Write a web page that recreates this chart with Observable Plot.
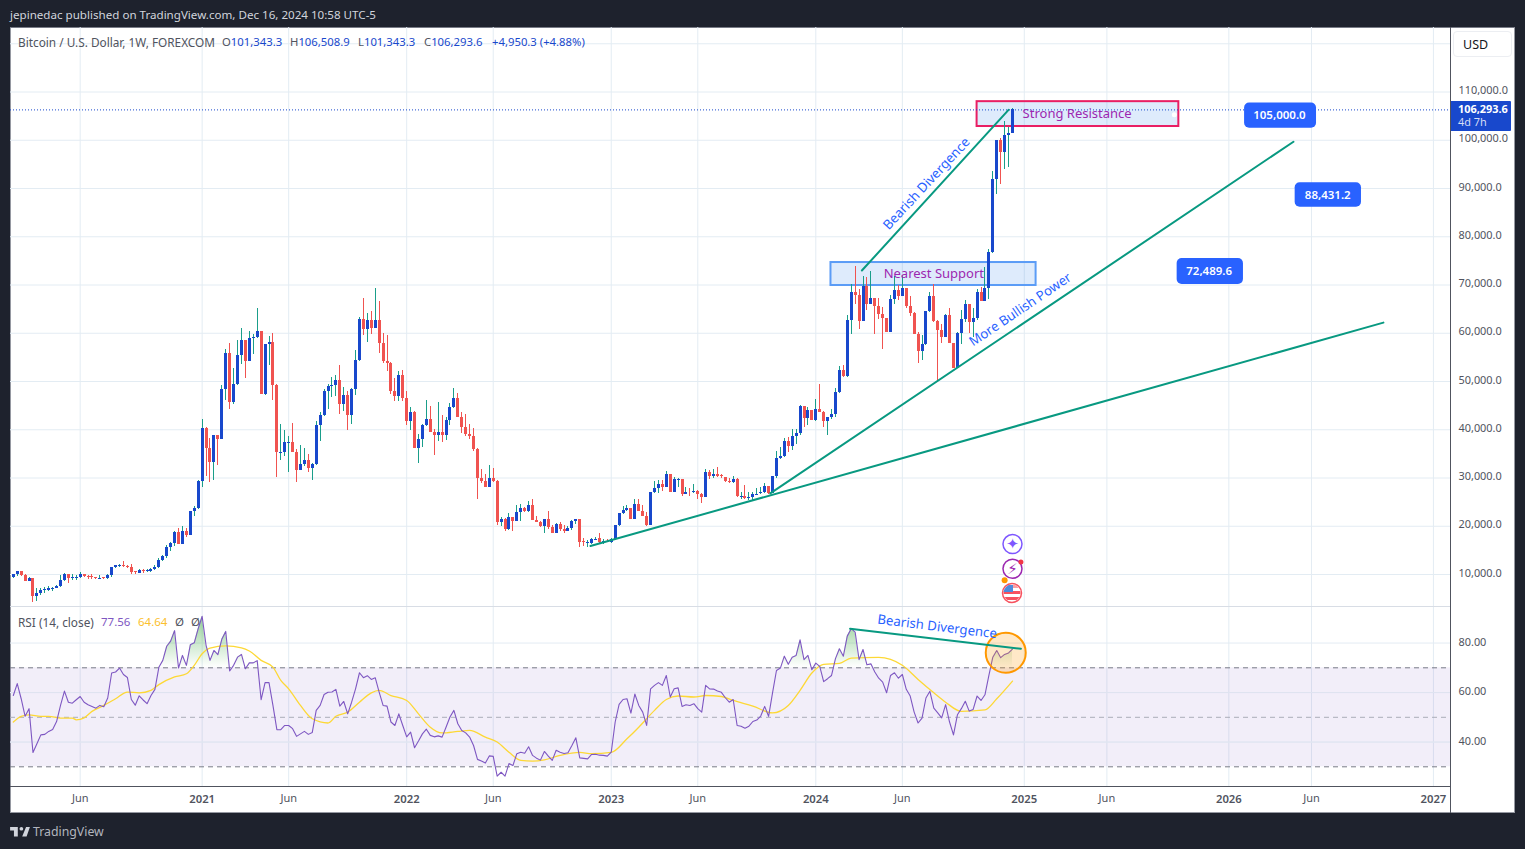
<!DOCTYPE html>
<html><head><meta charset="utf-8">
<script src="https://cdn.jsdelivr.net/npm/d3@7"></script>
<script src="https://cdn.jsdelivr.net/npm/@observablehq/plot@0.6"></script>
<style>
html,body{margin:0;padding:0;background:#1e222d;width:1525px;height:849px;overflow:hidden;font-family:"Noto Sans",sans-serif}
.abs{position:absolute;white-space:nowrap}
#frame{left:10px;top:27px;width:1505px;height:786px;background:#fff;box-sizing:border-box;border:1px solid #9598a1;border-top-color:#787b86}
#pane1,#pane2{position:absolute;left:10px}
#pane1{top:27px}#pane2{top:606px}
#sep{left:1450px;top:27px;width:1px;height:786px;background:#50535e}
#xline{left:10px;top:786px;width:1440px;height:1px;background:#50535e}
#pline{left:10px;top:606px;width:1440px;height:1px;background:#d8dde5}
.g{color:#50535e}.b{color:#1848cc}
</style></head><body>
<div class="abs" id="frame"></div>
<div id="pane1"></div><div id="pane2"></div>
<div class="abs" id="pline"></div>
<div class="abs" id="sep"></div><div class="abs" id="xline"></div>
<div class="abs" style="left:10px;top:7px;color:#d1d4dc;font-size:11.6px">jepinedac published on TradingView.com, Dec 16, 2024 10:58 UTC-5</div>
<div class="abs g" style="left:18px;top:34px;font-size:11.8px">Bitcoin / U.S. Dollar, 1W, FOREXCOM</div>
<div class="abs g" style="left:222px;top:34px;font-size:11.3px">O<span class="b">101,343.3</span></div>
<div class="abs g" style="left:290px;top:34px;font-size:11.3px">H<span class="b">106,508.9</span></div>
<div class="abs g" style="left:358px;top:34px;font-size:11.3px">L<span class="b">101,343.3</span></div>
<div class="abs g" style="left:424px;top:34px;font-size:11.3px">C<span class="b">106,293.6</span></div>
<div class="abs b" style="left:492px;top:34px;font-size:11.3px">+4,950.3 (+4.88%)</div>
<div class="abs g" style="left:18px;top:614px;font-size:11.8px">RSI (14, close)</div>
<div class="abs" style="left:101px;top:614px;font-size:11.5px;color:#7e57c2">77.56</div>
<div class="abs" style="left:138px;top:614px;font-size:11.5px;color:#fbc02d">64.64</div>
<div class="abs g" style="left:175px;top:614px;font-size:11.5px">&#216;</div>
<div class="abs g" style="left:191px;top:614px;font-size:11.5px">&#216;</div>
<div class="abs" style="left:1453px;top:31px;width:59px;height:26px;box-sizing:border-box;border:1px solid #eceef2;border-radius:4px;background:#fff;color:#131722;font-size:12.5px;line-height:25px;padding-left:9px">USD</div>
<div class="abs" style="left:1451px;top:101px;width:60px;height:30px;background:#1848cc;border-radius:0 1px 1px 0;color:#fff;font-size:10.9px;line-height:13px;padding:1px 0 0 7px;box-sizing:border-box"><b>106,293.6</b><br><span style="color:#d6def6">4d 7h</span></div>
<svg class="abs" style="left:1001px;top:582px" width="22" height="22" viewBox="0 0 22 22"><defs><clipPath id="fc"><circle cx="11" cy="11" r="8.5"/></clipPath></defs><circle cx="11" cy="11" r="9.5" fill="#fff" stroke="#f7525f" stroke-width="1.5"/><g clip-path="url(#fc)"><rect x="0" y="3" width="22" height="3" fill="#f7a0a6"/><rect x="0" y="9" width="22" height="3" fill="#f7525f"/><rect x="0" y="15" width="22" height="3" fill="#f7525f"/><rect x="2" y="3" width="10" height="7" fill="#4d8bdc"/></g></svg>
<svg class="abs" style="left:10px;top:826px" width="20" height="11" viewBox="0 0 36 20"><path fill="#d1d4dc" d="M14 2H0v6h7v11h7V2zm16 17h-8L29 2h7l-6 17z"/><circle cx="20.5" cy="5" r="3.4" fill="#d1d4dc"/></svg>
<div class="abs" style="left:33px;top:823px;color:#b2b5be;font-size:12.3px">TradingView</div>
<script>
// ---- weekly bars (thousands of USD), first bar = week of 3 Feb 2020 ----
const firstBar = "2020-02-03";
const firstOpen = 9.3;
const closes = [
9.9,10.6,9.7,8.6,9.2,5.4,6.1,6.7,6.7,7.0, 7.1,7.6,8.8,10.1,9.2,9.3,9.4,9.9,9.5,9.4,
9.3,9.1,9.2,9.1,9.7,11.5,11.8,11.9,11.6,11.5, 10.5,10.3,10.9,10.7,10.7,11.1,11.5,13.0,13.8,15.7,
16.5,18.8,16.3,18.9,18.0,23.1,23.6,29.2,40.2,36.2, 33.3,38.9,37.9,48.3,55.9,45.6,49.3,55.3,58.6,54.1,
58.9,59.1,60.3,47.4,57.6,58.0,49.1,35.2,35.2,37.3, 37.3,35.2,31.5,32.9,33.7,31.9,32.7,40.8,42.9,47.9,
48.9,49.1,50.3,45.2,47.2,42.9,48.3,54.3,62.8,60.7, 62.6,60.9,62.6,57.8,54.1,53.7,47.9,46.8,51.2,46.4,
41.8,43.5,36.2,37.9,40.8,42.2,39.5,38.9,39.5,38.9, 42.0,44.7,46.4,42.5,40.4,39.1,38.5,36.0,29.8,29.2,
28.1,29.8,29.2,20.7,21.5,19.4,21.9,20.9,22.8,23.6, 23.0,24.4,21.1,20.7,19.9,21.5,19.7,18.4,20.3,19.4,
19.0,19.6,20.9,21.5,16.7,16.5,16.5,17.2,17.4,16.7, 16.7,16.6,17.3,20.1,22.6,23.2,23.6,21.5,24.6,23.0,
22.1,20.1,26.9,27.8,28.6,28.0,30.7,27.1,29.6,29.6, 26.5,27.1,26.9,27.3,26.5,25.9,31.1,30.4,30.7,30.4,
30.2,29.3,29.0,29.6,26.1,26.1,25.7,26.0,26.5,26.7, 27.1,28.2,26.7,30.4,34.0,34.4,37.5,36.5,38.5,39.2,
44.8,42.3,43.9,41.9,44.2,43.5,41.7,42.5,43.1,47.7, 52.2,51.0,62.7,68.5,67.9,62.5,69.7,66.0,67.2,65.6,
63.9,63.0,60.2,67.0,68.9,67.6,69.3,65.6,64.1,59.8, 56.2,57.7,64.5,67.6,62.5,60.6,59.1,63.7,57.9,52.7,
60.0,62.9,66.0,62.2,63.1,68.5,66.6,69.3,76.8,91.9, 100.0,97.5,100.9,101.34,106.29];
const highs = [
10.1,10.7,10.5,10.0,9.3,9.2,7.0,7.2,7.4,7.6, 7.4,7.8,9.7,10.3,10.1,10.1,9.8,10.5,10.1,9.8,
9.9,9.4,9.7,9.4,9.9,11.5,11.9,12.1,12.6,11.9, 12.1,10.6,11.1,11.1,11.1,11.3,11.9,13.4,14.0,16.1,
16.7,19.0,19.6,20.0,19.6,23.1,24.0,29.4,42.2,40.4, 38.1,38.9,38.9,49.1,56.6,57.8,52.8,58.4,60.9,58.6,
60.3,59.7,65.1,60.3,57.6,59.3,59.9,49.3,41.0,39.8, 38.5,41.4,36.0,36.8,36.2,34.8,33.1,41.8,43.5,48.3,
49.3,50.8,51.2,53.3,48.7,47.9,48.5,56.4,63.2,67.2, 64.0,64.5,69.2,66.5,59.9,59.5,53.9,50.6,52.0,52.2,
47.9,44.7,43.7,39.1,41.0,46.0,44.9,40.0,45.6,42.9, 42.5,45.4,48.5,47.6,43.5,43.1,41.0,40.2,36.2,31.7,
30.8,32.5,31.9,29.4,21.9,21.7,22.6,21.9,24.4,24.6, 23.8,25.1,25.5,22.1,20.9,21.5,23.0,20.1,20.5,20.7,
20.1,19.9,21.1,21.5,21.5,17.4,17.0,17.4,17.6,18.6, 17.2,17.2,17.4,20.1,22.6,24.0,24.2,23.6,25.5,25.5,
24.2,22.8,27.1,29.2,29.4,29.4,31.3,30.7,30.2,29.8, 29.6,28.0,27.8,28.6,27.5,26.7,31.7,31.5,31.7,32.1,
30.7,30.2,29.8,30.4,29.8,26.9,28.4,26.9,27.1,27.8, 28.0,28.8,28.2,30.4,35.4,36.3,38.1,38.3,40.0,40.0,
45.0,44.8,44.6,43.9,46.2,49.3,43.7,42.6,44.2,48.5, 53.1,53.3,63.7,70.1,73.9,69.1,71.8,71.6,72.8,67.2,
67.2,65.4,63.0,67.9,71.8,69.9,72.0,69.3,67.6,64.3, 60.2,59.5,64.5,68.5,70.1,62.7,61.8,63.9,65.2,57.9,
60.2,64.7,66.8,66.0,65.2,69.1,69.5,73.7,77.4,93.6, 100.0,100.3,103.8,102.7,106.51];
const lows = [
9.2,9.6,9.5,8.6,8.6,4.1,4.5,5.7,6.0,6.5, 6.5,7.0,7.4,8.5,8.2,8.8,8.8,9.2,9.3,9.0,
9.0,9.0,9.0,9.0,9.0,9.4,11.3,11.4,11.5,11.3, 10.1,9.9,10.3,10.3,10.5,10.5,10.9,11.3,12.8,13.4,
14.8,15.9,16.3,16.9,17.7,18.0,22.1,23.4,28.1,30.4, 29.0,29.4,32.5,37.9,46.0,44.3,45.2,49.1,53.5,50.6,
54.1,55.7,58.9,47.4,47.2,53.3,46.0,30.2,33.7,34.4, 31.2,35.2,29.0,32.1,32.3,31.2,29.4,32.5,37.5,42.7,
44.1,46.6,46.8,43.1,43.7,39.8,41.0,47.2,54.1,59.5, 58.0,59.7,60.9,55.9,53.7,52.0,47.4,45.8,45.8,45.8,
40.8,39.8,36.2,33.1,36.4,40.6,39.5,34.6,37.5,37.3, 37.7,40.8,44.5,42.5,39.3,38.7,37.9,35.4,25.6,28.8,
28.1,28.1,29.0,20.2,19.9,19.0,19.2,19.0,20.9,20.9, 22.8,22.8,21.1,20.7,19.7,18.6,19.4,18.4,18.6,19.0,
18.4,19.0,19.2,20.3,15.7,15.9,15.7,16.3,17.0,16.5, 16.3,16.6,16.5,17.0,19.9,22.4,23.0,21.5,21.5,23.0,
22.1,19.9,20.1,26.7,26.7,27.3,28.0,27.1,27.1,28.0, 26.1,26.5,26.1,26.7,25.5,24.8,25.9,29.6,30.0,30.2,
29.8,29.0,28.8,28.8,25.9,25.5,25.5,25.3,25.1,26.3, 26.5,26.7,26.5,26.7,30.0,33.8,34.2,35.2,35.8,36.9,
38.8,40.4,40.8,41.9,41.7,43.5,40.4,38.8,42.1,42.5, 47.5,50.8,50.9,59.8,66.0,60.8,62.5,64.7,66.0,59.8,
62.9,56.6,60.2,60.2,66.0,66.8,67.6,65.2,63.5,59.8, 53.7,54.4,57.5,64.3,62.2,49.8,57.9,59.1,57.9,52.7,
52.7,57.7,62.2,60.0,59.1,62.7,66.6,66.6,67.0,76.6, 88.8,90.9,94.0,94.4,101.34];
const rsi = [
58.8,63.6,57.5,50.4,53.5,35.8,39.3,42.9,43.1,44.3, 45.1,48.3,54.8,60.6,56.1,55.7,57.1,58.4,56.1,55.1,
54.4,53.7,54.8,54.3,57.8,67.9,68.3,69.9,67.3,66.1, 57.2,54.9,58.7,57.0,55.5,58.8,61.3,70.2,73.0,78.7,
80.8,85.0,69.9,75.0,71.0,79.3,80.1,85.8,90.8,79.1, 73.0,77.0,75.3,81.5,84.7,68.7,71.0,74.3,75.4,69.6,
72.0,72.0,72.9,57.1,64.0,64.0,54.8,45.0,45.0,46.7, 46.7,45.4,42.3,43.3,44.3,43.1,43.9,52.8,54.8,59.2,
60.1,60.2,61.3,54.5,56.4,51.4,56.1,61.5,68.0,66.0, 66.8,65.3,66.0,60.2,54.8,54.5,48.1,46.7,51.4,46.7,
42.1,44.0,37.7,40.4,43.3,45.2,42.7,42.1,42.5,42.0, 46.0,50.1,52.8,47.4,44.7,43.7,42.0,38.6,33.0,32.3,
31.5,34.4,34.2,26.2,27.8,26.2,31.3,30.5,35.3,35.9, 35.5,38.1,34.6,33.5,32.7,36.2,34.3,32.6,36.7,35.9,
35.4,35.7,38.6,41.7,33.6,33.4,33.2,35.0,35.1,34.7, 34.6,34.3,35.9,48.1,55.2,57.2,57.5,51.7,59.4,54.8,
52.1,46.7,61.5,62.9,64.0,62.9,66.9,58.2,61.5,61.9, 54.4,55.1,54.8,55.5,53.5,52.1,62.9,61.5,61.4,60.6,
60.1,57.9,56.1,57.2,46.7,46.4,45.6,46.4,48.3,48.9, 50.5,54.4,50.4,59.9,68.9,69.9,74.7,71.4,74.3,75.0,
81.3,73.3,75.0,69.2,71.9,70.6,64.4,65.6,66.9,73.7, 77.7,74.7,82.8,85.8,84.4,73.3,77.4,71.2,71.6,68.3,
65.8,64.2,59.9,66.9,68.0,65.8,67.3,61.3,58.6,52.1, 47.7,49.7,57.8,60.5,53.7,51.8,49.8,55.1,48.1,42.9,
51.0,53.5,56.5,52.5,53.2,58.6,56.8,59.1,66.9,74.3, 77.0,74.1,75.4,76.0,77.56];
// RSI moving-average curve: read at these bar numbers
const maBars = [0,2,4,7,9,12,15,16,18,20,23,26,29,32,35,37,41,44,46,48,50,54,58,60,63,66,68,70,73,76,80,82,85,88,91,93,96,100,103,106,109,113,116,120,123,126,129,132,135,139,144,147,152,156,159,163,166,169,173,176,180,183,188,193,197,200,203,206,210,213,220,226,230,234,237,241,247,250,254];
const maVals = [48.1,50.4,51.0,50.4,50.4,49.7,49.7,49.0,49.8,52.4,54.8,57.5,60.2,59.9,60.9,63.2,66.3,67.6,71.0,75.7,78.0,78.9,78.1,76.8,73.0,70.3,64.9,61.5,54.8,49.4,47.7,50.4,52.1,56.1,59.9,60.9,58.8,56.8,51.4,46.0,43.7,44.3,44.7,42.0,40.0,35.9,32.6,32.3,32.8,34.6,35.8,35.3,35.8,41.3,46.0,52.8,57.2,58.6,58.2,58.8,58.4,56.8,54.5,51.8,54.8,60.9,67.9,71.4,71.8,73.9,74.2,71.0,65.3,59.9,56.1,52.4,53.0,57.5,64.64];
// axes
const yearTicks = ["2021-01-04","2022-01-03","2023-01-02","2024-01-01","2025-01-06","2026-01-05","2027-01-04"];
const yearLabels = ["2021","2022","2023","2024","2025","2026","2027"];
const juneTicks = ["2020-06-01","2021-06-07","2022-06-06","2023-06-05","2024-06-03","2025-06-02","2026-06-01"];
const priceGrid = [10,20,30,40,50,60,70,80,90,100,110,120];
const priceLabels = [10,20,30,40,50,60,70,80,90,100,110];
const rsiGrid = [80,60,40];
const lastPrice = 106.2936;
// annotations
const trendA = [["2022-11-26",15.9],["2026-10-07",62.2]];
const trendB = [["2023-10-12",26.8],["2026-04-30",99.7]];
const trendC = [["2024-03-23",73.0],["2024-12-09",106.3]];
const trendRsi = [["2024-03-02",85.8],["2024-12-31",77.7]];
const zones = [
 {x1:"2024-01-28",x2:"2025-01-27",y1:69.9,y2:74.66,stroke:"#5b9cf6"},
 {x1:"2024-10-14",x2:"2025-10-08",y1:102.85,y2:108.0,stroke:"#e91e63"}];
const zoneLabels = [
 {x:"2024-07-29",y:72.4,t:"Nearest Support"},
 {x:"2025-04-10",y:105.5,t:"Strong Resistance"}];
const slanted = [
 {x:"2024-07-16",y:91.0,t:"Bearish Divergence",r:-47},
 {x:"2024-12-30",y:64.9,t:"More Bullish Power",r:-34}];
const pills = [
 {x1:"2026-02-02",x2:"2026-06-10",y1:102.5,y2:107.7,x:"2026-04-05",y:105.1,t:"105,000.0"},
 {x1:"2026-05-03",x2:"2026-08-29",y1:86.1,y2:91.2,x:"2026-06-30",y:88.65,t:"88,431.2"},
 {x1:"2025-10-05",x2:"2026-01-31",y1:70.1,y2:75.5,x:"2025-12-01",y:72.8,t:"72,489.6"}];
const events = [
 {x:"2024-12-16",y:16.3,c:"#7e57ff",g:"\u2726",s:15},
 {x:"2024-12-16",y:11.2,c:"#9c27b0",g:"\u26A1",s:15}];

const D = s => new Date(s + "T00:00:00Z");
const weekDate = i => d3.utcDay.offset(D(firstBar), 7 * i);
const bars = closes.map((c, i) => {
  const o = i ? closes[i - 1] : firstOpen;
  return {d: weekDate(i), o, c, h: Math.max(highs[i], o, c), l: Math.min(lows[i], o, c), up: c >= o};
});
const rsiRows = rsi.map((v, i) => ({d: weekDate(i), v}));
const maRows = maBars.map((b, i) => ({d: weekDate(b), v: maVals[i]}));
const lineRows = a => a.map(([x, y]) => ({x: D(x), y}));
const dateRow = o => ({...o, x: o.x && D(o.x), x1: o.x1 && D(o.x1), x2: o.x2 && D(o.x2)});

const xDomain = [new Date("2020-01-29T00:00:00Z"), new Date("2027-02-03T10:00:00Z")];
const font = '"Noto Sans",sans-serif';
const grid = "#e3ecf3", teal = "#089981", upBody = "#1848cc", dnBody = "#f05350", upWick = "#1a9e8a", axisText = "#50535e";
const tk = [...yearTicks, ...juneTicks].map(D);

const pane1 = Plot.plot({
  width: 1505, height: 579, marginLeft: 0, marginRight: 65, marginTop: 0, marginBottom: 0,
  style: {background: "transparent", fontFamily: font, overflow: "visible"},
  x: {type: "utc", domain: xDomain}, y: {domain: [3.37, 123.37]},
  marks: [
    Plot.ruleX(tk, {stroke: grid}),
    Plot.ruleY(priceGrid, {stroke: grid}),
    Plot.axisY(priceLabels, {anchor: "right", tickSize: 0, tickPadding: 8, label: null, fill: axisText, fontSize: 10.9, dy: -1.5, tickFormat: d => d3.format(",.1f")(d * 1000)}),
    Plot.axisX({ticks: [], label: null, tickSize: 0}),
    Plot.rect(zones.map(dateRow), {x1: "x1", x2: "x2", y1: "y1", y2: "y2", fill: "#2f80ed", fillOpacity: 0.16, stroke: "stroke", strokeWidth: 2}),
    Plot.ruleX(bars, {x: "d", y1: "l", y2: "h", stroke: d => d.up ? upWick : dnBody, strokeWidth: 1, shapeRendering: "crispEdges"}),
    Plot.ruleX(bars, {x: "d", y1: d => Math.abs(d.c - d.o) < 0.2 ? d.o - 0.1 : d.o, y2: d => Math.abs(d.c - d.o) < 0.2 ? d.o + 0.1 : d.c, stroke: d => d.up ? upBody : dnBody, strokeWidth: 3, shapeRendering: "crispEdges"}),
    Plot.ruleY([lastPrice], {stroke: upBody, strokeDasharray: "1,2"}),
    Plot.line(lineRows(trendA), {x: "x", y: "y", stroke: teal, strokeWidth: 2}),
    Plot.line(lineRows(trendB), {x: "x", y: "y", stroke: teal, strokeWidth: 2}),
    Plot.line(lineRows(trendC), {x: "x", y: "y", stroke: teal, strokeWidth: 2}),
    Plot.text(zoneLabels.map(dateRow), {x: "x", y: "y", text: "t", fill: "#9c27b0", fontSize: 13}),
    Plot.dot([dateRow({x: "2025-09-30", y: 105.3})], {x: "x", y: "y", r: 2.5, fill: "#fff"}),
    Plot.text(slanted.map(dateRow), {x: "x", y: "y", text: "t", rotate: "r", fill: "#2962ff", fontSize: 13.2}),
    Plot.rect(pills.map(dateRow), {x1: "x1", x2: "x2", y1: "y1", y2: "y2", fill: "#2962ff", rx: 5}),
    Plot.text(pills.map(dateRow), {x: "x", y: "y", text: "t", fill: "#fff", fontWeight: 600, fontSize: 11.5}),
    Plot.dot(events.map(dateRow), {x: "x", y: "y", r: 9.5, fill: "#fff", stroke: "c", strokeWidth: 1.5}),
    Plot.text(events.map(dateRow), {x: "x", y: "y", text: "g", fill: "c", fontSize: "s", fontFamily: "DejaVu Sans"}),
    Plot.dot([dateRow({x: "2024-12-31", y: 12.6})], {x: "x", y: "y", r: 2.5, fill: "#f23645"}),
    Plot.dot([dateRow({x: "2024-12-02", y: 8.8})], {x: "x", y: "y", r: 3, fill: "#ff9800"})
  ]
});
document.getElementById("pane1").append(pane1);

const gradientDef = () => {
  const ns = "http://www.w3.org/2000/svg";
  const defs = document.createElementNS(ns, "defs");
  defs.innerHTML = '<linearGradient id="ob" x1="0" y1="0" x2="0" y2="1"><stop offset="0" stop-color="#4caf50" stop-opacity="0.6"/><stop offset="1" stop-color="#4caf50" stop-opacity="0"/></linearGradient>';
  return defs;
};
const pane2 = Plot.plot({
  width: 1505, height: 207, marginLeft: 0, marginRight: 65, marginTop: 0, marginBottom: 27,
  style: {background: "transparent", fontFamily: font, overflow: "visible"},
  x: {type: "utc", domain: xDomain}, y: {domain: [22.04, 94.77]},
  marks: [
    gradientDef,
    Plot.ruleX(tk, {stroke: grid}),
    Plot.rect([{}], {x1: xDomain[0], x2: xDomain[1], y1: 30, y2: 70, fill: "#7e57c2", fillOpacity: 0.1}),
    Plot.ruleY(rsiGrid, {stroke: grid}),
    Plot.ruleY([60, 40], {stroke: "#dfe3f0"}),
    Plot.ruleY([70, 30], {stroke: "#787b86", strokeDasharray: "5,4"}),
    Plot.ruleY([50], {stroke: "#aaadb8", strokeDasharray: "5,4"}),
    Plot.axisY(rsiGrid, {anchor: "right", tickSize: 0, tickPadding: 8, label: null, fill: axisText, fontSize: 10.9, dy: -1, tickFormat: d => d.toFixed(2)}),
    Plot.axisX(yearTicks.map(D), {tickSize: 0, tickPadding: 8, label: null, fill: axisText, fontSize: 11.3, fontWeight: 600, tickFormat: d => yearLabels[yearTicks.findIndex(t => +D(t) === +d)]}),
    Plot.axisX(juneTicks.map(D), {tickSize: 0, tickPadding: 8, label: null, fill: axisText, fontSize: 11, tickFormat: () => "Jun"}),
    Plot.areaY(rsiRows, {x: "d", y1: 70, y2: d => Math.max(d.v, 70), fill: "url(#ob)"}),
    Plot.line(maRows, {x: "d", y: "v", stroke: "#fdd835", strokeWidth: 1.3, curve: "monotone-x"}),
    Plot.line(rsiRows, {x: "d", y: "v", stroke: "#7e57c2", strokeWidth: 1.1}),
    Plot.dot([{x: D("2024-12-04"), y: 76.1}], {x: "x", y: "y", r: 20, fill: "#ff9800", fillOpacity: 0.22, stroke: "#ff9800", strokeWidth: 2}),
    Plot.line(lineRows(trendRsi), {x: "x", y: "y", stroke: teal, strokeWidth: 2}),
    Plot.text([{x: D("2024-08-04"), y: 86.6}], {x: "x", y: "y", text: () => "Bearish Divergence", rotate: 7, fill: "#2962ff", fontSize: 13.2})
  ]
});
document.getElementById("pane2").append(pane2);
</script>
</body></html>
